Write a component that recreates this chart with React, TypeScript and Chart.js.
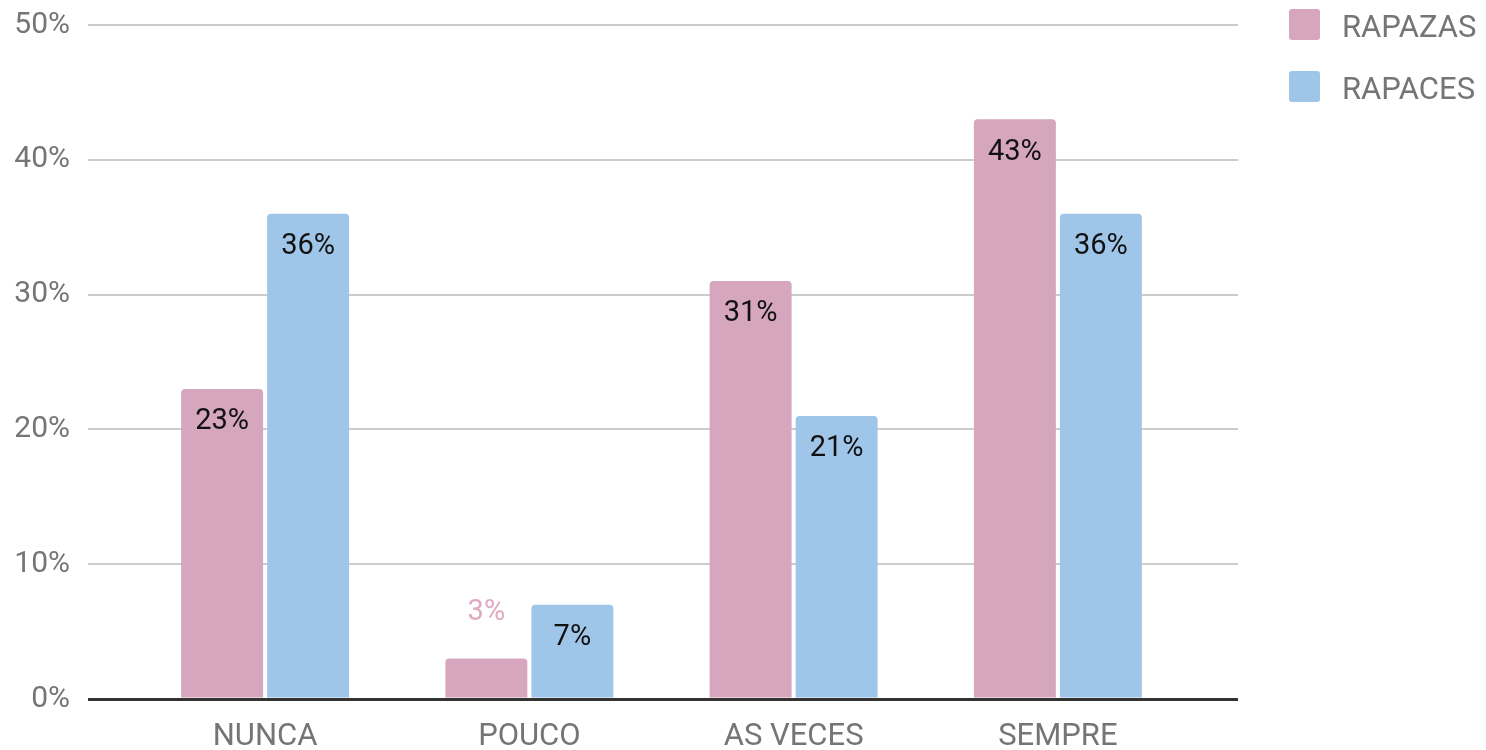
import React, { useEffect, useRef } from "react";
import { Chart, registerables } from "chart.js";

Chart.register(...registerables);

const categories = ["NUNCA", "POUCO", "AS VECES", "SEMPRE"];
const seriesNames = ["RAPAZAS", "RAPACES"];
const rapazas = [23, 3, 31, 43];
const rapaces = [36, 7, 21, 36];
const yTicks = [0, 10, 20, 30, 40, 50];

const PINK = "#d5a6bd";
const BLUE = "#9fc5e8";
const TEXT = "#757575";
const FONT = "Roboto";

const gridColor = (ctx: any) => (ctx.tick && ctx.tick.value === 0 ? "#333333" : "#cccccc");
const gridWidth = (ctx: any) => (ctx.tick && ctx.tick.value === 0 ? 3 : 2);

const labelPlugin = {
  id: "barLabels",
  afterDatasetsDraw(chart: any) {
    const { ctx } = chart;
    ctx.save();
    ctx.font = `29px ${FONT}`;
    ctx.textAlign = "center";
    ctx.textBaseline = "middle";
    chart.data.datasets.forEach((ds: any, i: number) => {
      const meta = chart.getDatasetMeta(i);
      meta.data.forEach((bar: any, j: number) => {
        const v = ds.data[j];
        const text = `${v}%`;
        if (v < 5) {
          ctx.fillStyle = "#e0a9c2";
          ctx.fillText(text, bar.x, bar.y - 46);
        } else {
          ctx.fillStyle = "#111111";
          ctx.fillText(text, bar.x, bar.y + 33);
        }
      });
    });
    ctx.restore();
  },
};

const zeroPad = (s: any) => {
  s.paddingTop = 0;
  s.paddingBottom = 0;
  s.paddingLeft = 0;
  s.paddingRight = 0;
};

export default function App() {
  const ref = useRef<HTMLCanvasElement>(null);
  useEffect(() => {
    if (!ref.current) return;
    Chart.defaults.font.family = FONT;
    const chart = new Chart(ref.current, {
      type: "bar",
      data: {
        labels: categories,
        datasets: [
          {
            label: seriesNames[0],
            data: rapazas,
            backgroundColor: PINK,
            borderRadius: 4,
            borderSkipped: "start",
            barPercentage: 0.953,
            categoryPercentage: 0.651,
            yAxisID: "y",
          },
          {
            label: seriesNames[1],
            data: rapaces,
            backgroundColor: BLUE,
            borderRadius: 4,
            borderSkipped: "start",
            barPercentage: 0.953,
            categoryPercentage: 0.651,
            yAxisID: "y",
          },
        ],
      },
      options: {
        animation: false,
        responsive: true,
        maintainAspectRatio: false,
        layout: { padding: { left: 0, right: 248, top: 25, bottom: 0 } },
        plugins: { legend: { display: false }, tooltip: { enabled: false } },
        scales: {
          x: {
            grid: { display: false, drawTicks: false },
            border: { display: false },
            ticks: { color: TEXT, font: { size: 31, family: FONT }, padding: 20 },
            afterFit: (s: any) => {
              s.height = 51;
              zeroPad(s);
            },
          },
          y: {
            position: "left",
            min: 0,
            max: 50,
            afterBuildTicks: (s: any) => {
              s.ticks = yTicks.map((v) => ({ value: v }));
            },
            border: { display: false },
            grid: { color: gridColor, lineWidth: gridWidth, drawTicks: true, tickLength: 45 },
            ticks: { color: TEXT, font: { size: 30, family: FONT }, padding: 18, callback: (v: any) => `${v}%` },
            afterFit: (s: any) => {
              s.width = 133;
              zeroPad(s);
            },
          },
          y2: {
            position: "right",
            min: 0,
            max: 50,
            afterBuildTicks: (s: any) => {
              s.ticks = yTicks.map((v) => ({ value: v }));
            },
            border: { display: false },
            grid: { color: gridColor, lineWidth: gridWidth, drawOnChartArea: false, drawTicks: true, tickLength: 48 },
            ticks: { display: false },
            afterFit: (s: any) => {
              s.width = 48;
              zeroPad(s);
            },
          },
        },
      },
      plugins: [labelPlugin],
    });
    return () => chart.destroy();
  }, []);

  const legendItem = (name: string, color: string, top: number) => (
    <div key={name} style={{ position: "absolute", left: 1289, top, height: 31, display: "flex", alignItems: "center" }}>
      <div style={{ width: 31, height: 31, background: color, borderRadius: 3 }} />
      <span style={{ marginLeft: 22, font: `31px ${FONT}`, color: TEXT, lineHeight: "31px", position: "relative", top: 2 }}>{name}</span>
    </div>
  );

  return (
    <div style={{ position: "absolute", left: 0, top: 0, width: 1486, height: 750, background: "#fff" }}>
      <canvas ref={ref} />
      {legendItem(seriesNames[0], PINK, 9)}
      {legendItem(seriesNames[1], BLUE, 71)}
    </div>
  );
}
